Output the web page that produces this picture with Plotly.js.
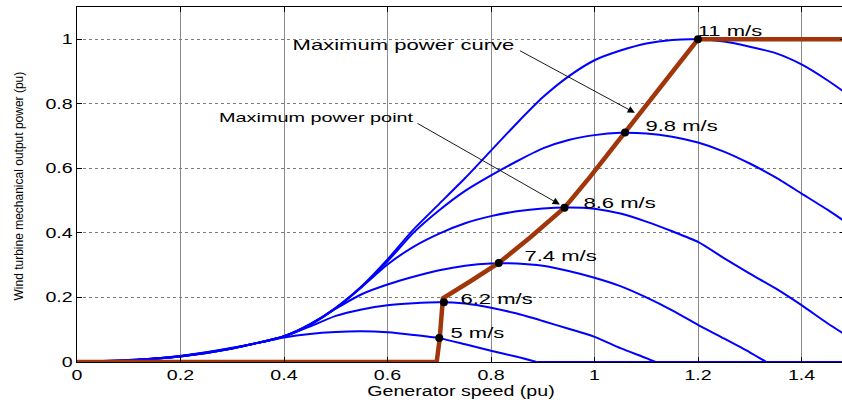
<!DOCTYPE html>
<html>
<head>
<meta charset="utf-8">
<script src="https://cdn.plot.ly/plotly-3.0.1.min.js"></script>
<style>
html,body{margin:0;padding:0;overflow:hidden;background:#fff;}
#chart{width:845px;height:400px;}
</style>
</head>
<body>
<div id="chart"></div>
<script>
// ---- data ----
const v5x  = [0, 0.1, 0.2, 0.3, 0.4, 0.45, 0.5, 0.55, 0.6, 0.65, 0.7, 0.75, 0.8, 0.85, 0.888, 1.484];
const v5y  = [0, 0.006, 0.019, 0.043, 0.076, 0.087, 0.093, 0.095, 0.092, 0.084, 0.074, 0.055, 0.035, 0.016, 0, 0];

const v62x = [0, 0.1, 0.2, 0.3, 0.4, 0.45, 0.5, 0.55, 0.6, 0.65, 0.7, 0.75, 0.8, 0.85, 0.9, 0.95, 1.0, 1.05, 1.1, 1.118, 1.484];
const v62y = [0, 0.006, 0.019, 0.044, 0.079, 0.11, 0.143, 0.163, 0.176, 0.182, 0.185, 0.181, 0.168, 0.15, 0.127, 0.103, 0.078, 0.043, 0.012, 0, 0];

const v74x = [0, 0.1, 0.2, 0.3, 0.4, 0.45, 0.5, 0.55, 0.6, 0.65, 0.7, 0.75, 0.8, 0.85, 0.9, 0.95, 1.0, 1.05, 1.1, 1.15, 1.2, 1.25, 1.3, 1.332, 1.484];
const v74y = [0, 0.005, 0.018, 0.043, 0.079, 0.114, 0.165, 0.21, 0.24, 0.264, 0.284, 0.298, 0.305, 0.305, 0.298, 0.282, 0.261, 0.235, 0.2, 0.16, 0.115, 0.073, 0.03, 0, 0];

const v86x = [0, 0.1, 0.2, 0.3, 0.4, 0.45, 0.5, 0.55, 0.6, 0.65, 0.7, 0.75, 0.8, 0.85, 0.9, 0.95, 1.0, 1.05, 1.1, 1.15, 1.2, 1.25, 1.3, 1.35, 1.4, 1.45, 1.484];
const v86y = [0, 0.005, 0.018, 0.042, 0.08, 0.116, 0.167, 0.232, 0.302, 0.357, 0.398, 0.43, 0.452, 0.467, 0.476, 0.479, 0.475, 0.46, 0.435, 0.405, 0.372, 0.322, 0.274, 0.228, 0.176, 0.12, 0.085];

const v98x = [0, 0.1, 0.2, 0.3, 0.4, 0.45, 0.5, 0.55, 0.6, 0.65, 0.7, 0.75, 0.8, 0.85, 0.9, 0.95, 1.0, 1.05, 1.1, 1.15, 1.2, 1.25, 1.3, 1.35, 1.4, 1.45, 1.484];
const v98y = [0, 0.005, 0.017, 0.042, 0.08, 0.116, 0.167, 0.233, 0.312, 0.4, 0.47, 0.53, 0.578, 0.622, 0.662, 0.688, 0.703, 0.71, 0.708, 0.698, 0.68, 0.652, 0.615, 0.572, 0.522, 0.472, 0.435];

const v11x = [0, 0.1, 0.2, 0.3, 0.4, 0.45, 0.5, 0.55, 0.6, 0.65, 0.7, 0.75, 0.8, 0.85, 0.9, 0.95, 1.0, 1.05, 1.1, 1.15, 1.2, 1.25, 1.3, 1.35, 1.4, 1.45, 1.484];
const v11y = [0, 0.005, 0.017, 0.042, 0.08, 0.117, 0.168, 0.235, 0.318, 0.41, 0.49, 0.57, 0.655, 0.74, 0.82, 0.885, 0.935, 0.965, 0.987, 0.998, 1.0, 0.993, 0.977, 0.957, 0.922, 0.873, 0.835];

// maximum power curve
const mpcX = [0, 0.695, 0.701, 0.707, 0.761, 0.815, 0.875, 0.942, 0.991, 1.059, 1.13, 1.2, 1.484];
const mpcY = [0, 0, 0.074, 0.197, 0.251, 0.307, 0.385, 0.478, 0.573, 0.711, 0.86, 1.0, 1.0];

// maximum power points
const mppX = [0.700, 0.709, 0.815, 0.942, 1.059, 1.2];
const mppY = [0.074, 0.185, 0.307, 0.478, 0.711, 1.0];
const speedLabels = ['5 m/s', '6.2 m/s', '7.4 m/s', '8.6 m/s', '9.8 m/s', '11 m/s'];

const xTicks = [0, 0.2, 0.4, 0.6, 0.8, 1, 1.2, 1.4];
const xTickText = ['0', '0.2', '0.4', '0.6', '0.8', '1', '1.2', '1.4'];
const yTicks = [0, 0.2, 0.4, 0.6, 0.8, 1];
const yTickText = ['0', '0.2', '0.4', '0.6', '0.8', '1'];
const xTitle = 'Generator speed (pu)';
const yTitle = 'Wind turbine mechanical output power (pu)';

// ---- build ----
const FONT = 'Liberation Sans, Arial, Helvetica, sans-serif';
const curves = [[v5x, v5y], [v62x, v62y], [v74x, v74y], [v86x, v86y], [v98x, v98y], [v11x, v11y]];
const traces = [];
curves.forEach(c => {
  const xs = c[0], ys = c[1];
  // index where the curve reaches zero after its peak (if any)
  let z = -1;
  for (let i = 1; i < ys.length; i++) { if (ys[i] === 0) { z = i; break; } }
  const end = z > 0 ? z + 1 : xs.length;
  traces.push({x: xs.slice(0, end), y: ys.slice(0, end), type: 'scatter', mode: 'lines',
    line: {color: '#0000ff', width: 2, shape: 'spline', smoothing: 0.6}, hoverinfo: 'skip', showlegend: false});
  if (z > 0) {
    traces.push({x: xs.slice(z), y: ys.slice(z), type: 'scatter', mode: 'lines',
      line: {color: '#0000ff', width: 2}, hoverinfo: 'skip', showlegend: false});
  }
});
traces.push({x: mpcX, y: mpcY, type: 'scatter', mode: 'lines',
  line: {color: '#a0360a', width: 4.5}, showlegend: false});
traces.push({x: mppX, y: mppY, type: 'scatter', mode: 'markers',
  marker: {color: '#000', size: 8}, showlegend: false, cliponaxis: false});

const labelShift = [[38, 6], [53, 4], [62, 7], [55, 5], [56, 7], [32, 9]];
const annotations = speedLabels.map((t, i) => ({
  x: mppX[i], y: mppY[i], xref: 'x', yref: 'y', text: t, showarrow: false,
  xanchor: 'center', yanchor: 'middle', xshift: labelShift[i][0], yshift: labelShift[i][1],
  font: {family: FONT, size: 15, color: '#000'}
}));
annotations.push({x: 0.63, y: 0.985, xref: 'x', yref: 'y', text: 'Maximum power curve',
  showarrow: false, xanchor: 'center', yanchor: 'middle',
  font: {family: FONT, size: 15, color: '#000'}});
annotations.push({x: 0.4613, y: 0.757, xref: 'x', yref: 'y', text: 'Maximum power point',
  showarrow: false, xanchor: 'center', yanchor: 'middle',
  font: {family: FONT, size: 13.5, color: '#000'}});
annotations.push({x: 1.078, y: 0.772, ax: 0.853, ay: 0.967, xref: 'x', yref: 'y', axref: 'x', ayref: 'y',
  text: '', showarrow: true, arrowhead: 2, arrowsize: 1.6, arrowwidth: 0.9, arrowcolor: '#000', standoff: 0});
annotations.push({x: 0.933, y: 0.488, ax: 0.655, ay: 0.742, xref: 'x', yref: 'y', axref: 'x', ayref: 'y',
  text: '', showarrow: true, arrowhead: 2, arrowsize: 1.6, arrowwidth: 0.9, arrowcolor: '#000', standoff: 0});
// y-axis title (rotated), placed in the left margin
annotations.push({x: -0.0768, y: 0.5, xref: 'paper', yref: 'paper', text: yTitle, textangle: -90,
  showarrow: false, xanchor: 'center', yanchor: 'middle', yshift: -2,
  font: {family: FONT, size: 12, color: '#000'}});

const layout = {
  width: 845, height: 400,
  margin: {l: 77, r: 0, t: 7, b: 38},
  paper_bgcolor: '#fff', plot_bgcolor: '#fff',
  font: {family: FONT, size: 14, color: '#000'},
  showlegend: false,
  xaxis: {
    range: [0, 1.484], tickvals: xTicks, ticktext: xTickText,
    ticks: 'inside', ticklen: 5, tickcolor: '#000', tickwidth: 1,
    showline: true, linecolor: '#000', linewidth: 1, mirror: 'ticks',
    showgrid: true, gridcolor: '#8a8a8a', gridwidth: 1, zeroline: false,
    tickfont: {family: FONT, size: 14, color: '#000'},
    title: {text: xTitle, font: {family: FONT, size: 14, color: '#000'}, standoff: 2},
    automargin: false
  },
  yaxis: {
    range: [0, 1.1], tickvals: yTicks, ticktext: yTickText,
    ticks: 'inside', ticklen: 5, tickcolor: '#000', tickwidth: 1,
    showline: true, linecolor: '#000', linewidth: 1.5, mirror: 'ticks',
    showgrid: true, gridcolor: '#7a7a7a', gridwidth: 1, griddash: 'dot', zeroline: false,
    tickfont: {family: FONT, size: 14, color: '#000'},
    automargin: false
  },
  annotations: annotations
};

function stretch(sel, f) {
  document.querySelectorAll(sel).forEach(t => {
    if (t.textContent === yTitle) return;
    const w = t.getComputedTextLength();
    if (w > 0) {
      t.setAttribute('textLength', (w * f).toFixed(1));
      t.setAttribute('lengthAdjust', 'spacingAndGlyphs');
    }
  });
}

Plotly.newPlot('chart', traces, layout, {staticPlot: true, displayModeBar: false}).then(() => {
  stretch('.xtick text', 1.4);
  stretch('.ytick text', 1.4);
  stretch('.annotation-text', 1.47);
  stretch('.g-xtitle text', 1.4);
});
</script>
</body>
</html>
